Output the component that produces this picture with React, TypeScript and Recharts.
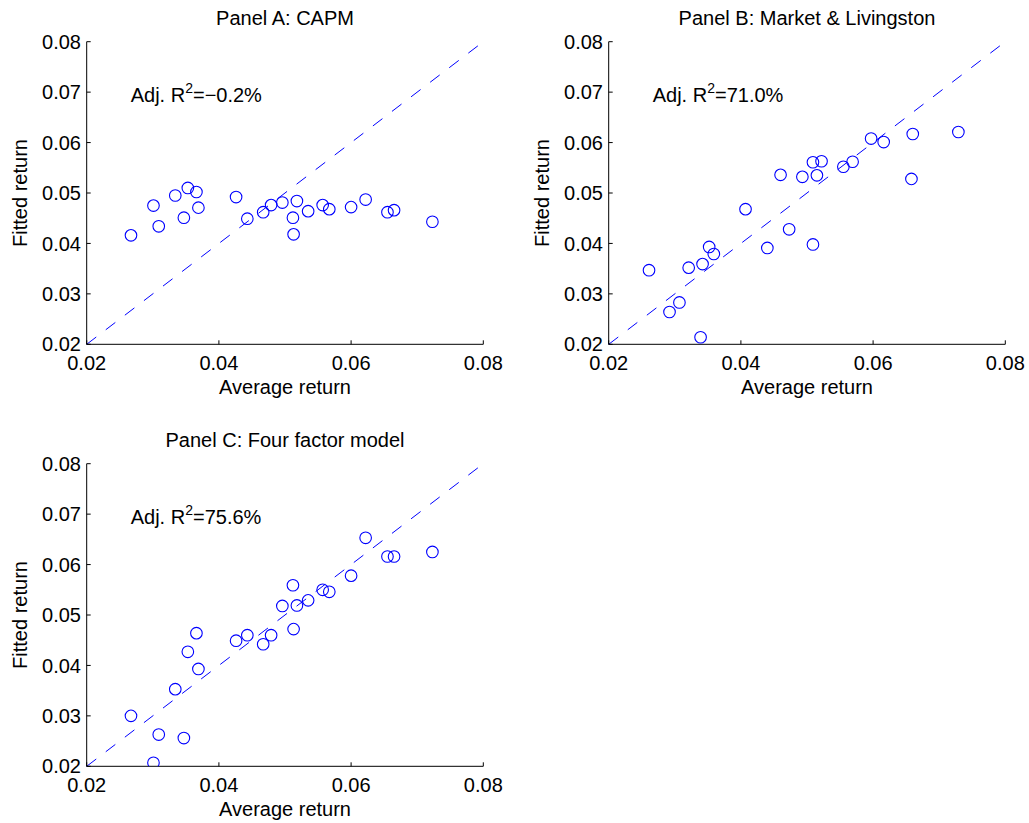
import React from 'react';
import { ScatterChart, Scatter, XAxis, YAxis, ReferenceLine } from 'recharts';

// ---- data ----
// Average returns shared by Panel A and Panel C
const avgReturnAC = [
  0.0267, 0.0301, 0.0309, 0.0334, 0.0347, 0.0353, 0.0366, 0.0369, 0.0426, 0.0443, 0.0467, 0.0479,
  0.0496, 0.0512, 0.0513, 0.0518, 0.0535, 0.0557, 0.0567, 0.06, 0.0622, 0.0655, 0.0665, 0.0723,
];
const fittedCAPM = [
  0.0416, 0.0475, 0.0434, 0.0495, 0.0451, 0.051, 0.0502, 0.0471, 0.0492, 0.0449, 0.0462, 0.0476,
  0.0481, 0.0451, 0.0418, 0.0484, 0.0464, 0.0476, 0.0468, 0.0472, 0.0487, 0.0462, 0.0466, 0.0443,
];
const fittedFourFactor = [
  0.03, 0.0207, 0.0263, 0.0353, 0.0256, 0.0427, 0.0464, 0.0393, 0.0449, 0.046, 0.0442, 0.046,
  0.0518, 0.0559, 0.0472, 0.0519, 0.0529, 0.055, 0.0546, 0.0578, 0.0653, 0.0616, 0.0616, 0.0625,
];
// Panel B
const avgReturnB = [
  0.0261, 0.0292, 0.0307, 0.0339, 0.0321, 0.0342, 0.0352, 0.0359, 0.0407, 0.044, 0.046, 0.0473,
  0.0493, 0.0509, 0.0509, 0.0515, 0.0522, 0.0555, 0.0569, 0.0597, 0.0616, 0.066, 0.0658, 0.0729,
];
const fittedMarketLivingston = [
  0.0347, 0.0264, 0.0283, 0.0214, 0.0352, 0.0359, 0.0393, 0.0379, 0.0468, 0.0391, 0.0536, 0.0428,
  0.0532, 0.0561, 0.0398, 0.0535, 0.0563, 0.0552, 0.0562, 0.0608, 0.0601, 0.0617, 0.0528, 0.0621,
];

const xTicks = [0.02, 0.04, 0.06, 0.08];
const yTicks = [0.02, 0.03, 0.04, 0.05, 0.06, 0.07, 0.08];
const axisDomain = [0.02, 0.08];
const diagonal = [
  { x: 0.02, y: 0.02 },
  { x: 0.08, y: 0.08 },
];

const panelTitles = ['Panel A: CAPM', 'Panel B: Market & Livingston', 'Panel C: Four factor model'];
const adjR2Labels = ['\u22120.2%', '71.0%', '75.6%'];
const xLabel = 'Average return';
const yLabel = 'Fitted return';

// ---- layout ----
const FONT = '"Liberation Sans", Arial, Helvetica, sans-serif';
const BLUE = '#0000ff';
const CH_W = 545;
const CH_H = 395;
const PLOT_LEFT = 86.7;
const PLOT_TOP = 41.7;
const PLOT_RIGHT = 483.3;
const PLOT_BOTTOM = 344.3;
const PLOT_CX = (PLOT_LEFT + PLOT_RIGHT) / 2;
const PLOT_CY = (PLOT_TOP + PLOT_BOTTOM) / 2;

const panelSpecs = [
  { xs: avgReturnAC, ys: fittedCAPM, left: 0, top: 0 },
  { xs: avgReturnB, ys: fittedMarketLivingston, left: 521.6, top: 0 },
  { xs: avgReturnAC, ys: fittedFourFactor, left: 0, top: 421.6 },
];

const Circle = (props: any) => {
  const { cx, cy } = props;
  if (cx == null || cy == null) return null;
  return <circle cx={cx} cy={cy} r={5.8} fill="none" stroke={BLUE} strokeWidth={1.1} />;
};

const fmt = (v: number) => v.toFixed(2);

function Panel({ index }: { index: number }) {
  const spec = panelSpecs[index];
  const data = spec.xs.map((x, i) => ({ x, y: spec.ys[i] }));
  return (
    <div style={{ position: 'absolute', left: spec.left, top: spec.top, width: CH_W, height: CH_H }}>
      <ScatterChart
        width={CH_W}
        height={CH_H}
        margin={{ top: PLOT_TOP, right: CH_W - PLOT_RIGHT, bottom: 0, left: 0 }}
      >
        <XAxis
          type="number"
          dataKey="x"
          domain={axisDomain}
          ticks={xTicks}
          allowDataOverflow
          height={CH_H - PLOT_BOTTOM}
          tickFormatter={fmt}
          tick={{ fontSize: 20, fill: '#000', fontFamily: FONT }}
          tickSize={-4}
          tickMargin={15.8}
          axisLine={{ stroke: '#000', strokeWidth: 1 }}
          tickLine={{ stroke: '#000', strokeWidth: 1 }}
          interval={0}
        />
        <YAxis
          type="number"
          dataKey="y"
          domain={axisDomain}
          ticks={yTicks}
          allowDataOverflow
          width={PLOT_LEFT}
          tickFormatter={fmt}
          tick={{ fontSize: 20, fill: '#000', fontFamily: FONT }}
          tickSize={-4}
          tickMargin={9.7}
          axisLine={{ stroke: '#000', strokeWidth: 1 }}
          tickLine={{ stroke: '#000', strokeWidth: 1 }}
          interval={0}
        />
        <ReferenceLine
          segment={diagonal}
          stroke={BLUE}
          strokeWidth={1}
          strokeDasharray="12 12"
          ifOverflow="visible"
        />
        <Scatter data={data} shape={Circle} isAnimationActive={false} />
      </ScatterChart>
      <svg
        width={CH_W}
        height={CH_H}
        style={{ position: 'absolute', left: 0, top: 0, overflow: 'visible', pointerEvents: 'none' }}
        fontFamily={FONT}
      >
        <text x={PLOT_CX} y={PLOT_TOP - 16.7} textAnchor="middle" fontSize={20} fill="#000">
          {panelTitles[index]}
        </text>
        <text x={PLOT_LEFT + 44} y={PLOT_TOP + 60} fontSize={20} fill="#000">
          Adj. R
          <tspan dy={-8.4} fontSize={14}>
            2
          </tspan>
          <tspan dy={8.4} fontSize={20}>
            ={adjR2Labels[index]}
          </tspan>
        </text>
        <text x={PLOT_CX} y={PLOT_BOTTOM + 50} textAnchor="middle" fontSize={20} fill="#000">
          {xLabel}
        </text>
        <text
          transform={`translate(26.7, ${PLOT_CY}) rotate(-90)`}
          textAnchor="middle"
          fontSize={20}
          fill="#000"
        >
          {yLabel}
        </text>
      </svg>
    </div>
  );
}

export default function App() {
  return (
    <div
      style={{
        position: 'absolute',
        left: 0,
        top: 0,
        width: 1029,
        height: 823,
        background: '#fff',
        overflow: 'hidden',
        fontFamily: FONT,
      }}
    >
      <Panel index={0} />
      <Panel index={1} />
      <Panel index={2} />
    </div>
  );
}
